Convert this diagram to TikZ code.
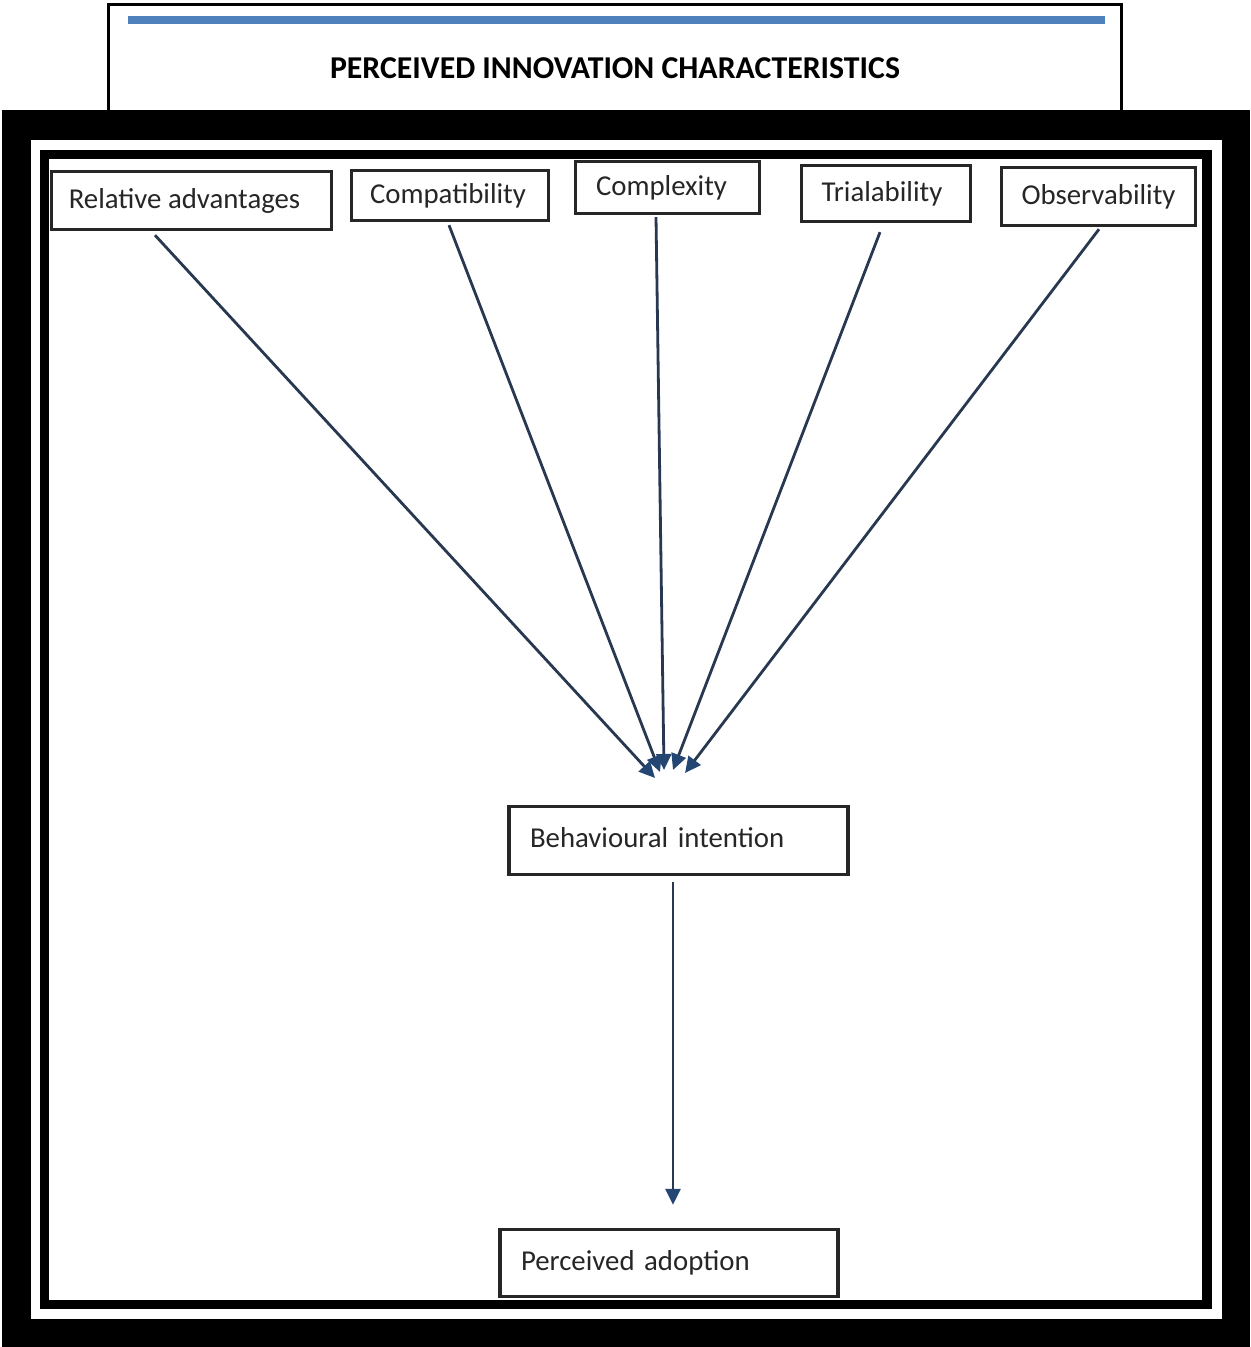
\documentclass[tikz,border=0pt]{standalone}
\usepackage{fontspec}
\setmainfont{Carlito}
\usetikzlibrary{arrows.meta}
\definecolor{titleblue}{RGB}{79,129,189}
\definecolor{arrline}{RGB}{40,56,80}
\definecolor{tipblue}{RGB}{36,70,115}
\tikzset{
  x=0.5pt, y=-0.5pt,
  box/.style={draw=black!85, line width=1.7pt, fill=white, inner sep=0pt,
    font=\fontsize{14.4}{16}\selectfont, text=black!85},
  leftbox/.style={box, align=left, inner xsep=10.5pt},
  arr/.style={draw=arrline, line width=1.4pt,
    -{Triangle[length=8pt,width=7.5pt,fill=tipblue,color=tipblue]}},
}
\begin{document}
\begin{tikzpicture}
\useasboundingbox (0,0) rectangle (1250,1347);
% title box
\draw[line width=1.5pt, draw=black] (108.5,4.5) rectangle (1121.5,112);
\draw[line width=4pt, titleblue] (128,20) -- (1105,20);
\node[font=\fontsize{15.9}{18}\bfseries\selectfont] (title) at (615,68) {PERCEIVED INNOVATION CHARACTERISTICS};
% frames
\fill[black] (2,110) rectangle (1250,1347);
\fill[white] (31,140) rectangle (1222,1319);
\fill[black] (40,150) rectangle (1212,1309);
\fill[white] (49,159) rectangle (1202,1300);
% boxes
\node[box, minimum width=140pt, minimum height=29pt] (ra) at (191.5,200.5) {\hspace*{-7pt}Relative advantages};
\node[box, minimum width=98.5pt, minimum height=25pt] (cp) at (450,195.5) {\hspace*{-2pt}Compatibility};
\node[box, minimum width=92pt, minimum height=26pt] (cx) at (667.5,187.5) {\hspace*{-6pt}Complexity};
\node[box, minimum width=84.5pt, minimum height=28pt] (tr) at (886,193.5) {\hspace*{-4pt}Trialability};
\node[box, minimum width=97pt, minimum height=29pt] (ob) at (1098.5,196.5) {Observability};
\node[leftbox, text width=148.5pt, minimum height=34pt] (bi) at (678.5,840.5) {\raisebox{3.2pt}{Behavioural intention}};
\node[leftbox, text width=148pt, minimum height=33.5pt] (pa) at (669,1263) {\raisebox{3pt}{Perceived adoption}};
% tips
\coordinate (t1) at (655,778);
\coordinate (t2) at (660,772);
\coordinate (t3) at (664,770);
\coordinate (t4) at (673,770);
\coordinate (t5) at (685,773);
\draw[arr] ([xshift=-18.25pt,yshift=-2pt]ra.south) -- (t1);
\draw[arr] ([xshift=-0.5pt,yshift=-1.5pt]cp.south) -- (t2);
\draw[arr] ([xshift=-5.75pt,yshift=-1pt]cx.south) -- (t3);
\draw[arr] ([xshift=-3pt,yshift=-4.5pt]tr.south) -- (t4);
\draw[arr] ([xshift=0.25pt,yshift=-1pt]ob.south) -- (t5);
\draw[arr, shorten >=11.5pt] ([xshift=-2.75pt,yshift=-3pt]bi.south) -- ([xshift=2pt]pa.north);
\end{tikzpicture}
\end{document}
